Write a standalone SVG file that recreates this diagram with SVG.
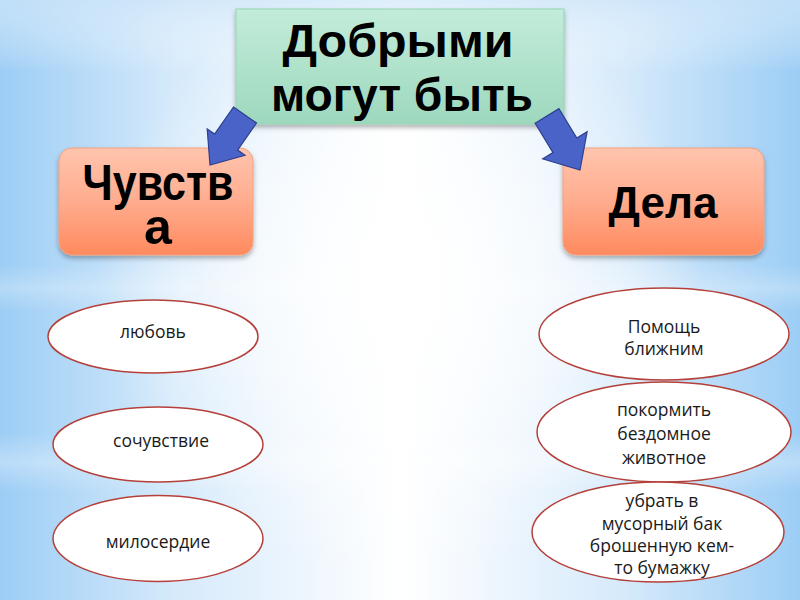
<svg xmlns="http://www.w3.org/2000/svg" width="800" height="600" viewBox="0 0 800 600">
<defs>
<linearGradient id="bgH" x1="0" y1="0" x2="1" y2="0">
<stop offset="0" stop-color="#9ccdf5"/>
<stop offset="0.22" stop-color="#d6eafb"/>
<stop offset="0.5" stop-color="#ffffff"/>
<stop offset="0.78" stop-color="#d6eafb"/>
<stop offset="1" stop-color="#9ccdf5"/>
</linearGradient>
<radialGradient id="bgR" cx="400" cy="280" r="300" gradientUnits="userSpaceOnUse">
<stop offset="0" stop-color="#ffffff" stop-opacity="1"/>
<stop offset="0.5" stop-color="#ffffff" stop-opacity="0.6"/>
<stop offset="1" stop-color="#ffffff" stop-opacity="0"/>
</radialGradient>
<linearGradient id="bands" x1="0" y1="0" x2="0" y2="1">
<stop offset="0" stop-color="#cfe6f9" stop-opacity="0.7"/>
<stop offset="0.12" stop-color="#ffffff" stop-opacity="0"/>
<stop offset="0.44" stop-color="#ffffff" stop-opacity="0"/>
<stop offset="0.48" stop-color="#ffffff" stop-opacity="0.25"/>
<stop offset="0.52" stop-color="#ffffff" stop-opacity="0"/>
<stop offset="0.72" stop-color="#ffffff" stop-opacity="0"/>
<stop offset="0.77" stop-color="#ffffff" stop-opacity="0.3"/>
<stop offset="0.82" stop-color="#ffffff" stop-opacity="0"/>
<stop offset="1" stop-color="#ffffff" stop-opacity="0"/>
</linearGradient>
<linearGradient id="green" x1="0" y1="0" x2="0" y2="1">
<stop offset="0" stop-color="#c3ecda"/>
<stop offset="1" stop-color="#9dd8bd"/>
</linearGradient>
<linearGradient id="orange" x1="0" y1="0" x2="0" y2="1">
<stop offset="0" stop-color="#ffc4ae"/>
<stop offset="0.5" stop-color="#ffac8e"/>
<stop offset="1" stop-color="#ff8a5e"/>
</linearGradient>
<filter id="sh" x="-10%" y="-10%" width="120%" height="130%">
<feDropShadow dx="0" dy="3" stdDeviation="2.5" flood-color="#000000" flood-opacity="0.3"/>
</filter>
<style>
.title{font-family:"Liberation Sans",Arial,sans-serif;font-weight:bold;fill:#000000;text-anchor:middle}
.oval{fill:#ffffff;stroke:#b5403a;stroke-width:1.5}
.lbl{font-family:"Open Sans","Noto Sans",sans-serif;font-size:17.5px;fill:#1a1a1a;text-anchor:middle}
.arrow{fill:#4a63c8;stroke:#2e3f8c;stroke-width:1.2;stroke-linejoin:miter}
.box{stroke:#f5a07c;stroke-width:1}
</style>
</defs>
<rect x="0" y="0" width="800" height="600" fill="url(#bgH)"/>
<rect x="0" y="0" width="800" height="600" fill="url(#bgR)"/>
<rect x="0" y="0" width="800" height="600" fill="url(#bands)"/>

<g id="node-top">
<rect x="236" y="9" width="328" height="115" fill="url(#green)" stroke="#93d3b4" stroke-width="1" filter="url(#sh)"/>
<text class="title" x="398" y="57" font-size="47" textLength="231" lengthAdjust="spacingAndGlyphs">Добрыми</text>
<text class="title" x="402" y="111" font-size="47" textLength="262" lengthAdjust="spacingAndGlyphs">могут быть</text>
</g>

<g id="node-chuvstva">
<rect class="box" x="59" y="148" width="194" height="107" rx="13" fill="url(#orange)" filter="url(#sh)"/>
<text class="title" x="158" y="200" font-size="50" textLength="151" lengthAdjust="spacingAndGlyphs">Чувств</text>
<text class="title" x="158" y="244" font-size="50">а</text>
</g>

<g id="node-dela">
<rect class="box" x="563" y="148" width="201" height="107" rx="13" fill="url(#orange)" filter="url(#sh)"/>
<text class="title" x="663" y="218" font-size="44" textLength="109" lengthAdjust="spacingAndGlyphs">Дела</text>
</g>

<g id="connectors">
<polygon class="arrow" points="233.5,107 256.5,123 237.6,150.1 245,155.3 210,165 207.2,128.9 214.6,134.1"/>
<polygon class="arrow" points="535.1,123.3 558.9,108.7 576.8,138 587.1,131.8 580,170 542.7,158.8 553,152.6"/>
</g>

<g id="node-lyubov">
<ellipse class="oval" cx="153" cy="336.5" rx="105" ry="36.5"/>
<text class="lbl" x="153" y="338">любовь</text>
</g>
<g id="node-sochuvstvie">
<ellipse class="oval" cx="158" cy="444.5" rx="105" ry="37.5"/>
<text class="lbl" x="161" y="447">сочувствие</text>
</g>
<g id="node-miloserdie">
<ellipse class="oval" cx="158" cy="538.5" rx="105" ry="43"/>
<text class="lbl" x="158" y="548">милосердие</text>
</g>

<g id="node-pomosch">
<ellipse class="oval" cx="664" cy="334" rx="125" ry="46"/>
<text class="lbl" x="664" y="333">Помощь</text>
<text class="lbl" x="664" y="355">ближним</text>
</g>
<g id="node-pokormit">
<ellipse class="oval" cx="664" cy="432" rx="127" ry="50"/>
<text class="lbl" x="664" y="416">покормить</text>
<text class="lbl" x="664" y="440">бездомное</text>
<text class="lbl" x="664" y="464">животное</text>
</g>
<g id="node-ubrat">
<ellipse class="oval" cx="658" cy="532" rx="126" ry="50"/>
<text class="lbl" x="662" y="507">убрать в</text>
<text class="lbl" x="662" y="530">мусорный бак</text>
<text class="lbl" x="662" y="552">брошенную кем-</text>
<text class="lbl" x="662" y="574">то бумажку</text>
</g>
</svg>
